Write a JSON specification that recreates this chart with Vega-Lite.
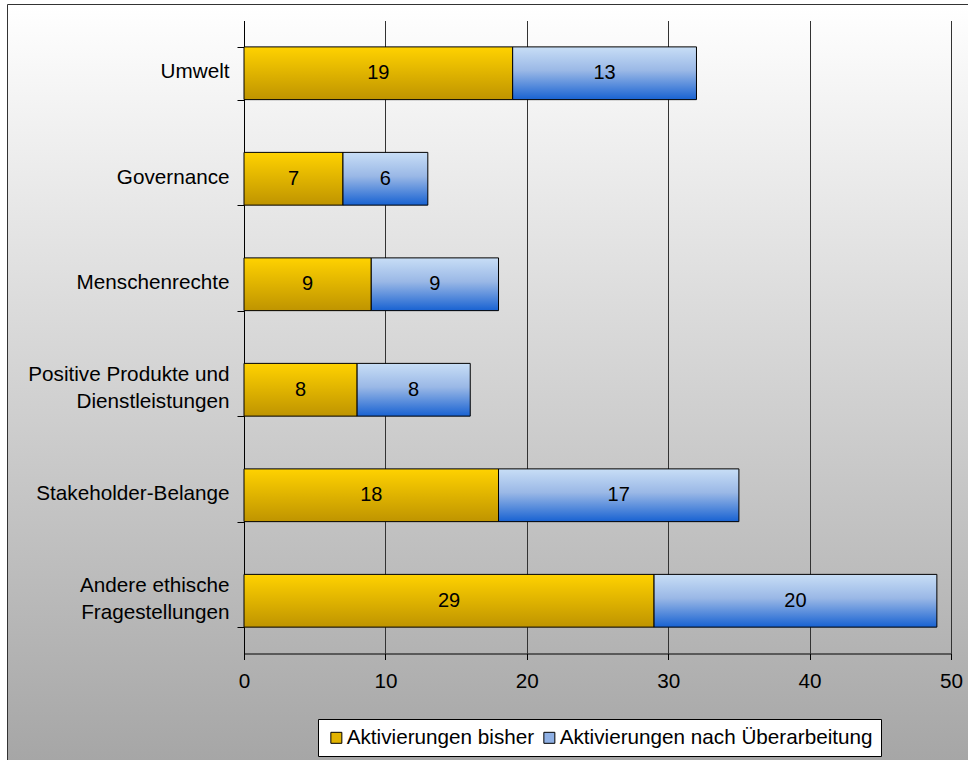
{
  "$schema": "https://vega.github.io/schema/vega-lite/v6.json",
  "width": 961,
  "height": 756,
  "autosize": {"type": "none"},
  "padding": {"left": 7, "top": 4, "right": 0, "bottom": 0},
  "background": "#ffffff",
  "config": {
    "view": {
      "fill": {"gradient": "linear", "x1": 0, "y1": 0, "x2": 0, "y2": 1,
        "stops": [{"offset": 0, "color": "#ffffff"}, {"offset": 1, "color": "#a6a6a6"}]},
      "stroke": "#333333",
      "strokeWidth": 1
    },
    "font": "Liberation Sans"
  },
  "data": {
    "values": [
      {"kategorie": "Umwelt", "serie": "Aktivierungen bisher", "wert": 19},
      {"kategorie": "Umwelt", "serie": "Aktivierungen nach Überarbeitung", "wert": 13},
      {"kategorie": "Governance", "serie": "Aktivierungen bisher", "wert": 7},
      {"kategorie": "Governance", "serie": "Aktivierungen nach Überarbeitung", "wert": 6},
      {"kategorie": "Menschenrechte", "serie": "Aktivierungen bisher", "wert": 9},
      {"kategorie": "Menschenrechte", "serie": "Aktivierungen nach Überarbeitung", "wert": 9},
      {"kategorie": "Positive Produkte und\nDienstleistungen", "serie": "Aktivierungen bisher", "wert": 8},
      {"kategorie": "Positive Produkte und\nDienstleistungen", "serie": "Aktivierungen nach Überarbeitung", "wert": 8},
      {"kategorie": "Stakeholder-Belange", "serie": "Aktivierungen bisher", "wert": 18},
      {"kategorie": "Stakeholder-Belange", "serie": "Aktivierungen nach Überarbeitung", "wert": 17},
      {"kategorie": "Andere ethische\nFragestellungen", "serie": "Aktivierungen bisher", "wert": 29},
      {"kategorie": "Andere ethische\nFragestellungen", "serie": "Aktivierungen nach Überarbeitung", "wert": 20}
    ]
  },
  "encoding": {
    "y": {
      "field": "kategorie",
      "type": "nominal",
      "sort": null,
      "scale": {"range": [16.5, 649.5], "paddingInner": 0.5, "paddingOuter": 0.25},
      "axis": {
        "title": null,
        "orient": "left",
        "offset": -237,
        "labelExpr": "length(split(datum.label, '\\n')) > 1 ? [split(datum.label, '\\n')[0], '\u200b', split(datum.label, '\\n')[1]] : ['\u200b', datum.label]",
        "labelFont": "Liberation Sans",
        "labelFontSize": 20.7,
        "labelColor": "#000000",
        "labelLineHeight": 13.5,
        "labelOffset": -15,
        "labelLimit": 400,
        "labelPadding": 8,
        "tickSize": 7,
        "tickColor": "#000000",
        "domainColor": "#000000",
        "tickBand": "extent",
        "grid": false
      }
    }
  },
  "layer": [
    {
      "mark": {"type": "bar", "stroke": "#000000", "strokeWidth": 1},
      "encoding": {
        "x": {
          "field": "wert",
          "type": "quantitative",
          "stack": "zero",
          "scale": {"domain": [0, 50], "range": [237, 944], "nice": false},
          "axis": {
            "title": null,
            "orient": "bottom",
            "offset": -106.5,
            "values": [0, 10, 20, 30, 40, 50],
            "grid": false,
            "tickSize": 6,
            "tickColor": "#000000",
            "domainColor": "#000000",
            "labelFont": "Liberation Sans",
            "labelFontSize": 20.7,
            "labelColor": "#000000",
            "labelPadding": 12,
            "labelFlush": false
          }
        },
        "detail": {"field": "serie", "type": "nominal"},
        "order": {"field": "serie", "type": "nominal", "sort": "ascending"},
        "fill": {
          "condition": {
            "test": "datum.serie === 'Aktivierungen bisher'",
            "value": {"gradient": "linear", "x1": 0, "y1": 0, "x2": 0, "y2": 1,
              "stops": [{"offset": 0, "color": "#ffd200"}, {"offset": 1, "color": "#bf9400"}]}
          },
          "value": {"gradient": "linear", "x1": 0, "y1": 0, "x2": 0, "y2": 1,
            "stops": [{"offset": 0, "color": "#c8def6"}, {"offset": 0.45, "color": "#9ab8e6"}, {"offset": 1, "color": "#1862d2"}]}
        }
      }
    },
    {
      "mark": {"type": "text", "font": "Liberation Sans", "fontSize": 20, "color": "#000000", "align": "center", "baseline": "middle"},
      "encoding": {
        "x": {"field": "wert", "type": "quantitative", "stack": "zero", "bandPosition": 0.5, "axis": null},
        "detail": {"field": "serie", "type": "nominal"},
        "order": {"field": "serie", "type": "nominal", "sort": "ascending"},
        "text": {"field": "wert", "type": "quantitative"}
      }
    },
    {
      "mark": {"type": "square", "size": 0, "opacity": 0},
      "encoding": {
        "x": {
          "field": "wert",
          "type": "quantitative",
          "stack": "zero",
          "axis": {
            "title": null,
            "orient": "bottom",
            "offset": -106.5,
            "values": [10, 20, 30, 40, 50],
            "grid": false,
            "domain": false,
            "labels": false,
            "tickSize": -633,
            "tickColor": "#333333",
            "tickWidth": 1,
            "zindex": 0
          }
        },
        "detail": {"field": "serie", "type": "nominal"},
        "order": {"field": "serie", "type": "nominal", "sort": "ascending"},
        "color": {
          "field": "serie",
          "type": "nominal",
          "scale": {
            "domain": ["Aktivierungen bisher", "Aktivierungen nach Überarbeitung"],
            "range": ["#e2b300", "#8fb0e4"]
          },
          "legend": {
            "title": null,
            "orient": "none",
            "legendX": 311,
            "legendY": 715,
            "direction": "horizontal",
            "fillColor": "#ffffff",
            "strokeColor": "#000000",
            "padding": 8,
            "labelFont": "Liberation Sans",
            "labelFontSize": 20.7,
            "labelColor": "#000000",
            "labelLimit": 500,
            "symbolType": "square",
            "symbolSize": 121,
            "symbolStrokeColor": "#000000",
            "symbolStrokeWidth": 1,
            "symbolOpacity": 1,
            "columnPadding": 4,
            "labelOffset": 0,
            "encode": {
              "symbols": {
                "update": {
                  "stroke": {"value": "#000000"},
                  "strokeWidth": {"value": 1},
                  "opacity": {"value": 1},
                  "size": {"value": 121}
                }
              }
            }
          }
        }
      }
    }
  ],
  "resolve": {"axis": {"x": "independent"}}
}
